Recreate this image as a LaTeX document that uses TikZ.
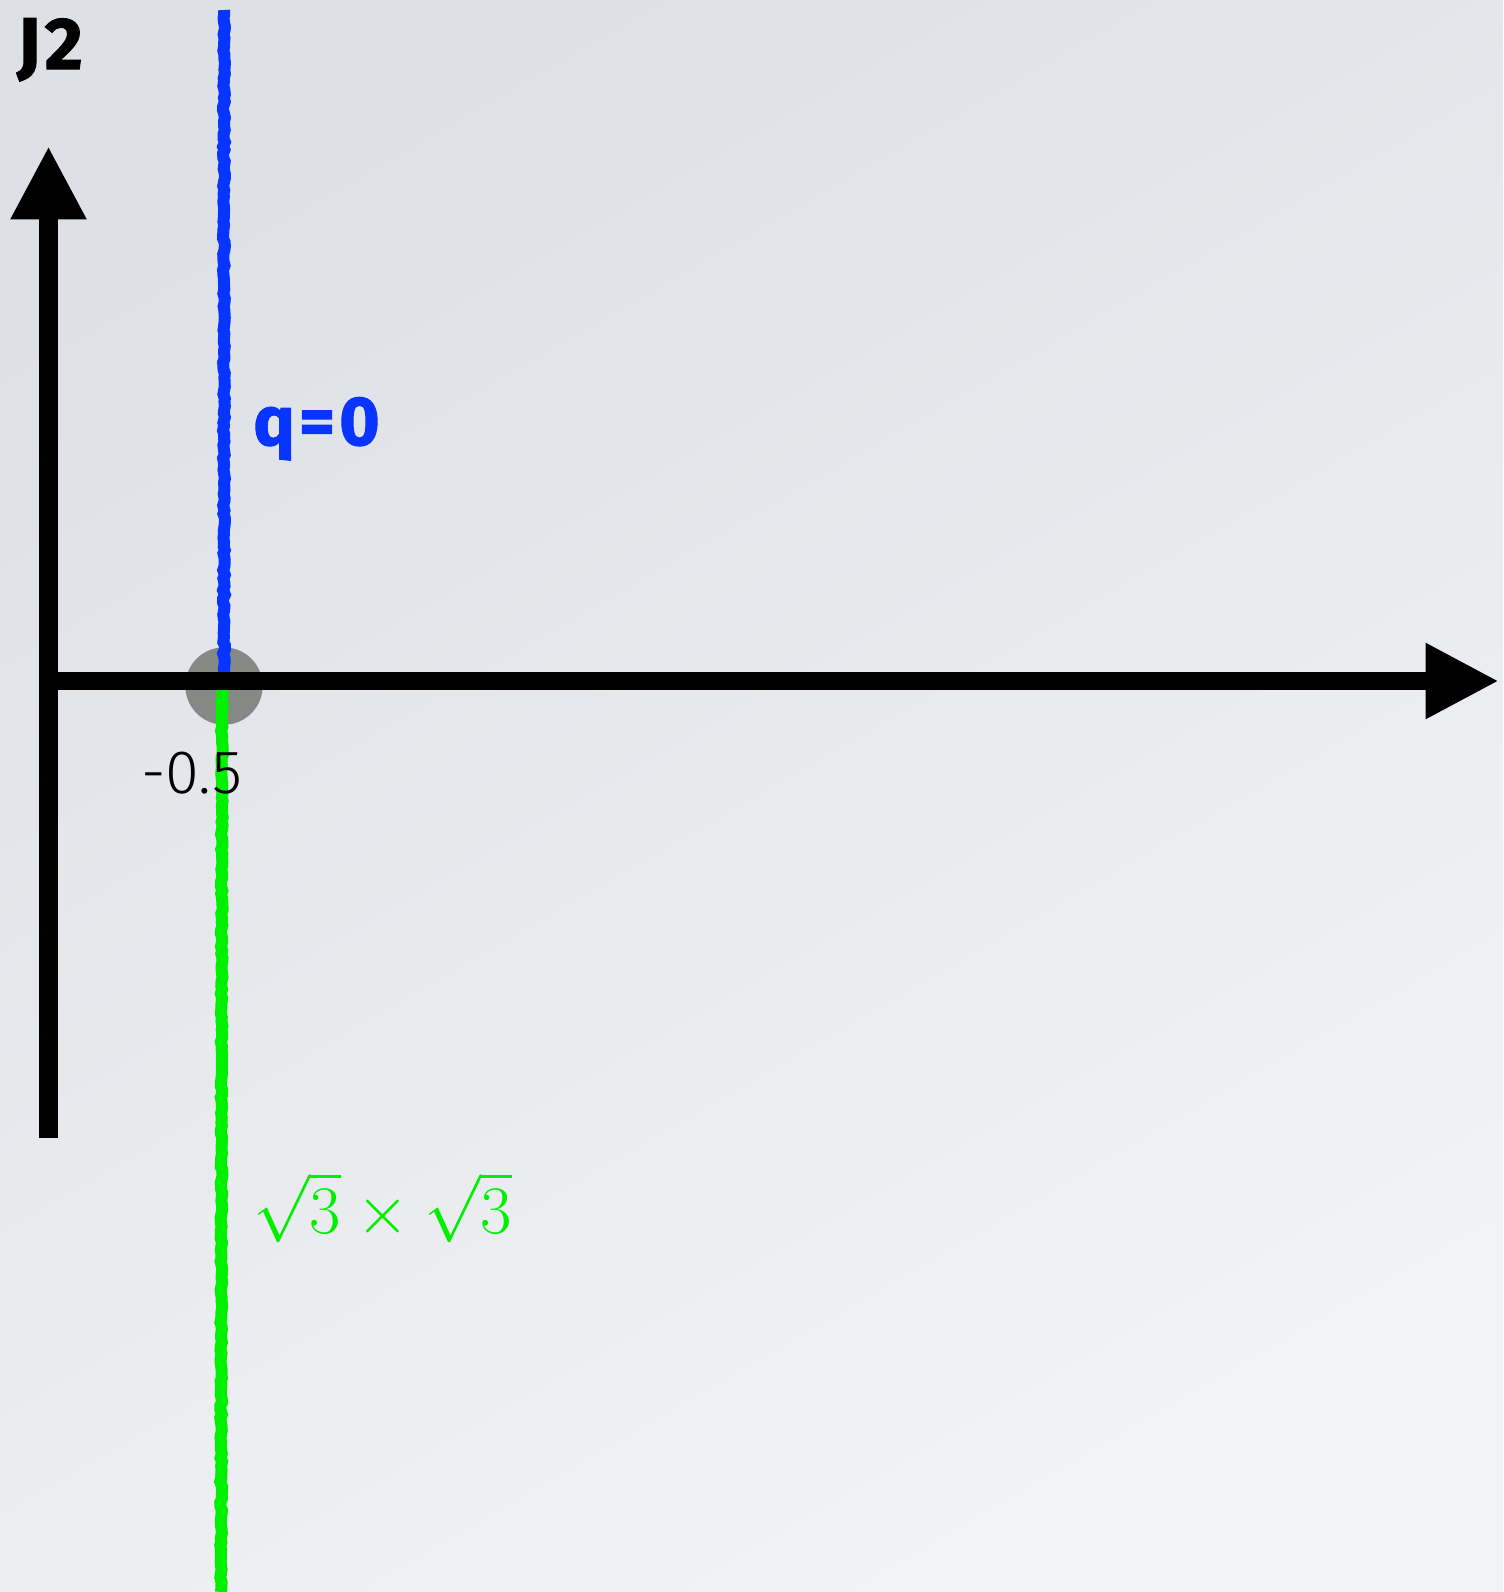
\documentclass[tikz,border=0pt]{standalone}
\usepackage[no-math]{fontspec}
\usepackage{graphicx}
\setmainfont{Fira Sans}
\newfontfamily\thinfont{Fira Sans Light}
\newfontfamily\heavyfont[FakeBold=1.5,LetterSpace=6]{Fira Sans Bold}
\usetikzlibrary{arrows.meta,decorations.pathmorphing}

\definecolor{bgtop}{RGB}{221,224,229}
\definecolor{bgbot}{RGB}{242,243,246}
\definecolor{qblue}{RGB}{8,52,255}
\definecolor{chalkgreen}{RGB}{0,240,0}
\definecolor{dotgray}{RGB}{133,137,134}

\tikzset{
  axis/.style={line width=14pt, -{Triangle[length=55pt,width=53pt]}},
  chalk/.style={line width=9pt, decorate,
    decoration={random steps, segment length=3pt, amplitude=0.7pt}},
  biglabel/.style={anchor=base west, inner sep=0pt}
}

\begin{document}
\begin{tikzpicture}[x=0.75pt,y=-0.75pt]
            \pgfmathsetseed{7}
            \useasboundingbox (0,0) rectangle (1503,1592);
            \shade[top color=bgtop, bottom color=bgbot, shading angle=30] (0,0) rectangle (1503,1592);
            % axes end points and the critical point
            \coordinate (ybot)   at (48.5,1138);
            \coordinate (ytop)   at (48.5,146);
            \coordinate (xleft)  at (39,681);
            \coordinate (xright) at (1499,681);
            \coordinate (crit)   at (224,686);
            \coordinate (qtop)   at (224,10);
            \coordinate (qend)   at (224,672);
            \coordinate (gstart) at (222,690);
            \coordinate (gend)   at (221,1592);
            \fill[dotgray] (crit) circle (29pt);
            \draw[chalk, qblue] (qtop) -- (qend);
            \draw[chalk, chalkgreen] (gstart) -- (gend);
            \draw[axis] (ybot) -- (ytop);
            \draw[axis] (xleft) -- (xright);
            \node[biglabel, font=\fontsize{55}{55}\selectfont\heavyfont] (jlabel) at (17,69) {J2};
            \node[biglabel, font=\fontsize{52}{52}\selectfont\heavyfont, text=qblue] (qlabel) at (253,445) {q=0};
            \node[biglabel, font=\fontsize{46}{46}\selectfont\thinfont] (critlabel) at (141,793) {-0.5};
            \node[biglabel, text=chalkgreen] (glabel) at (253,1233) {\scalebox{2.05}{\Huge$\sqrt{3}\times\sqrt{3}$}};
        \end{tikzpicture}
\end{document}
